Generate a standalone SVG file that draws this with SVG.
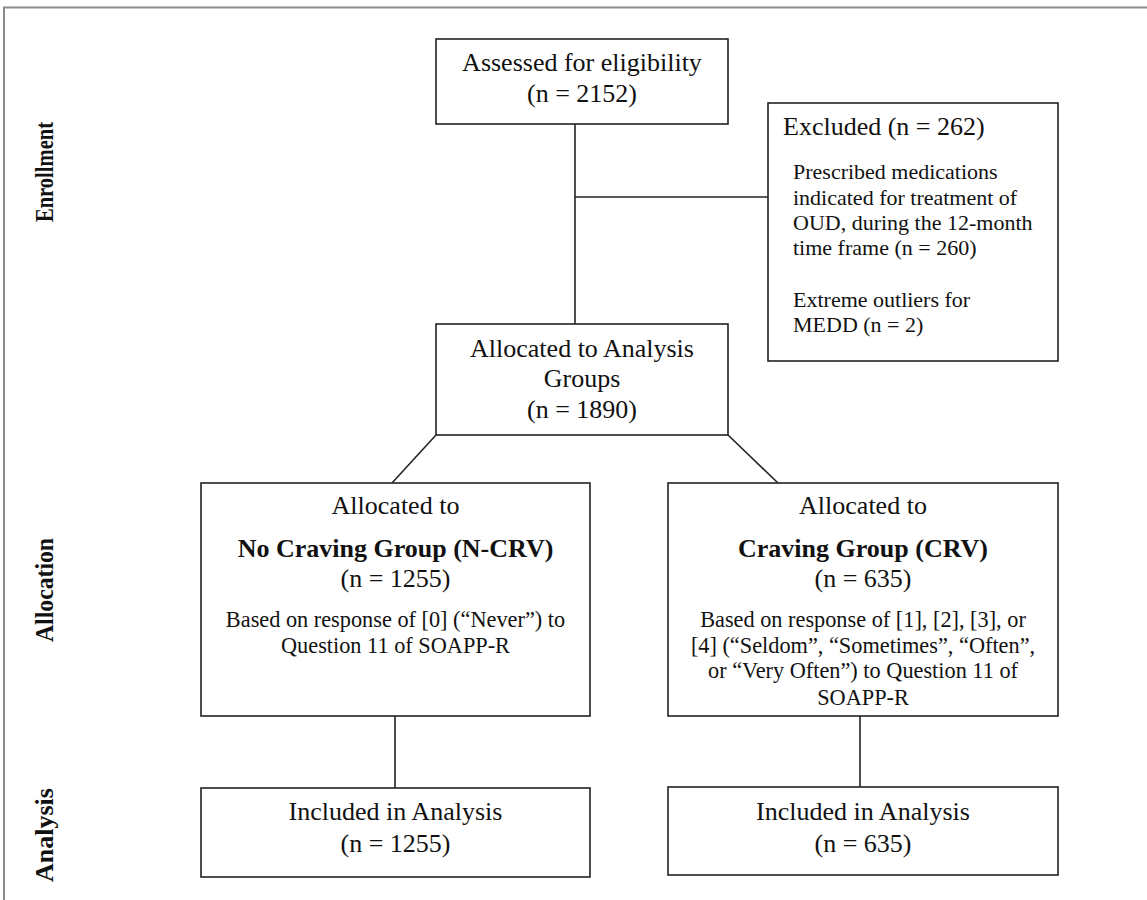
<svg xmlns="http://www.w3.org/2000/svg" width="1147" height="900" viewBox="0 0 1147 900">
<style>
  .box { fill: #ffffff; stroke: #222222; stroke-width: 1.6; }
  .ln { fill: none; stroke: #222222; stroke-width: 1.6; }
  .frame { fill: none; stroke: #8a8a8a; stroke-width: 2; }
  text { font-family: "Liberation Serif", "Times New Roman", serif; fill: #111111; }
  .t26 { font-size: 26px; }
  .t22 { font-size: 22px; }
  .t22w { font-size: 22.3px; }
  .c { text-anchor: middle; }
  .b { font-weight: bold; }
</style>
<rect width="1147" height="900" fill="#ffffff"/>
<path class="frame" d="M4,900 V7.5 H1147"/>

<g id="side-labels">
  <text class="t26 b c" transform="translate(53,172) rotate(-90)" textLength="100" lengthAdjust="spacingAndGlyphs">Enrollment</text>
  <text class="t26 b c" transform="translate(53,590) rotate(-90)" textLength="104" lengthAdjust="spacingAndGlyphs">Allocation</text>
  <text class="t26 b c" transform="translate(53,835) rotate(-90)">Analysis</text>
</g>

<g id="connectors">
  <line class="ln" x1="575" y1="124" x2="575" y2="324"/>
  <line class="ln" x1="575" y1="197" x2="768" y2="197"/>
  <line class="ln" x1="436" y1="435" x2="392" y2="483"/>
  <line class="ln" x1="728" y1="435" x2="778" y2="483"/>
  <line class="ln" x1="395" y1="716" x2="395" y2="788"/>
  <line class="ln" x1="860" y1="716" x2="860" y2="787"/>
</g>

<g id="assessed">
  <rect class="box" x="436" y="39" width="292" height="85"/>
  <text class="t26 c" x="582" y="71">Assessed for eligibility</text>
  <text class="t26 c" x="582" y="102">(n = 2152)</text>
</g>

<g id="excluded">
  <rect class="box" x="768" y="103" width="290" height="258"/>
  <text class="t26" x="783" y="135">Excluded (n = 262)</text>
  <text class="t22" x="793" y="179">Prescribed medications</text>
  <text class="t22" x="793" y="205">indicated for treatment of</text>
  <text class="t22" x="793" y="230">OUD, during the 12-month</text>
  <text class="t22" x="793" y="255">time frame (n = 260)</text>
  <text class="t22" x="793" y="307">Extreme outliers for</text>
  <text class="t22" x="793" y="332">MEDD (n = 2)</text>
</g>

<g id="allocated">
  <rect class="box" x="436" y="324" width="292" height="111"/>
  <text class="t26 c" x="582" y="357">Allocated to Analysis</text>
  <text class="t26 c" x="582" y="387">Groups</text>
  <text class="t26 c" x="582" y="418">(n = 1890)</text>
</g>

<g id="no-craving">
  <rect class="box" x="201" y="483" width="389" height="233"/>
  <text class="t26 c" x="395.5" y="514">Allocated to</text>
  <text class="t26 c b" x="395.5" y="557">No Craving Group (N-CRV)</text>
  <text class="t26 c" x="395.5" y="587">(n = 1255)</text>
  <text class="t22w c" x="395.5" y="627">Based on response of [0] (“Never”) to</text>
  <text class="t22w c" x="395.5" y="653">Question 11 of SOAPP-R</text>
</g>

<g id="craving">
  <rect class="box" x="668" y="483" width="390" height="233"/>
  <text class="t26 c" x="863" y="514">Allocated to</text>
  <text class="t26 c b" x="863" y="557">Craving Group (CRV)</text>
  <text class="t26 c" x="863" y="587">(n = 635)</text>
  <text class="t22w c" x="863" y="627">Based on response of [1], [2], [3], or</text>
  <text class="t22w c" x="863" y="653">[4] (“Seldom”, “Sometimes”, “Often”,</text>
  <text class="t22w c" x="863" y="678">or “Very Often”) to Question 11 of</text>
  <text class="t22w c" x="863" y="705">SOAPP-R</text>
</g>

<g id="included-ncrv">
  <rect class="box" x="201" y="788" width="389" height="89"/>
  <text class="t26 c" x="395.5" y="820">Included in Analysis</text>
  <text class="t26 c" x="395.5" y="852">(n = 1255)</text>
</g>

<g id="included-crv">
  <rect class="box" x="668" y="787" width="390" height="88"/>
  <text class="t26 c" x="863" y="820">Included in Analysis</text>
  <text class="t26 c" x="863" y="852">(n = 635)</text>
</g>
</svg>
